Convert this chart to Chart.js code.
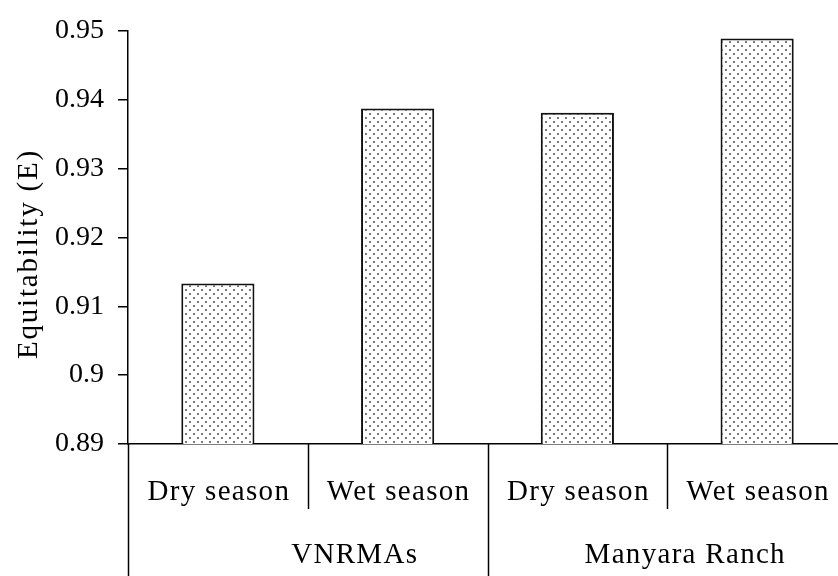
<!DOCTYPE html>
<html>
<head>
<meta charset="utf-8">
<script src="https://cdn.jsdelivr.net/npm/chart.js@4"></script>
<style>
  html,body{margin:0;padding:0;background:#fff;overflow:hidden;}
  #wrap{width:850px;height:576px;}
</style>
</head>
<body>
<div id="wrap"><canvas id="chart"></canvas></div>
<script>
/* Equitability (E) by season and area */
const categories   = ['Dry season', 'Wet season', 'Dry season', 'Wet season'];
const groups       = ['VNRMAs', 'Manyara Ranch'];
const groupSizes   = [2, 2];
const equitability = [0.9133, 0.9387, 0.9381, 0.9489];
const yMin = 0.89, yMax = 0.95, yStep = 0.01;

const FONT = '"Liberation Serif", "Times New Roman", serif';
const INK  = '#000';
const groupLabelNudge = [47, 18];   // the original's group labels sit right of centre

function dotPattern(){
  const c = document.createElement('canvas'); c.width = 8; c.height = 8;
  const p = c.getContext('2d');
  p.fillStyle = '#fff'; p.fillRect(0,0,8,8);
  p.fillStyle = '#7a7a7a';
  p.fillRect(1,1,2,2); p.fillRect(5,5,2,2);
  return p.createPattern(c, 'repeat');
}

const lowerAxis = {
  id: 'lowerAxis',
  afterDraw(chart){
    const ctx = chart.ctx, x = chart.scales.x, a = chart.chartArea;
    const H = chart.height;
    const edge = i => i === 0 ? a.left : i === categories.length ? a.right
      : (x.getPixelForValue(i-1) + x.getPixelForValue(i)) / 2;
    ctx.save();
    ctx.strokeStyle = INK; ctx.lineWidth = 1.5;
    // separators: long at group edges, short inside a group
    const groupEdges = [0]; groupSizes.forEach(n => groupEdges.push(groupEdges[groupEdges.length-1] + n));
    for (let i = 0; i <= categories.length; i++){
      const px = Math.round(edge(i)) + 0.5;
      const long = groupEdges.includes(i);
      ctx.beginPath(); ctx.moveTo(px, a.bottom); ctx.lineTo(px, long ? H : a.bottom + 65); ctx.stroke();
    }
    ctx.fillStyle = INK; ctx.font = '29px ' + FONT;
    ctx.textAlign = 'center'; ctx.textBaseline = 'middle';
    ctx.letterSpacing = '1.3px';
    categories.forEach((c, i) => ctx.fillText(c, x.getPixelForValue(i) + 1, a.bottom + 48));
    groups.forEach((g, k) => {
      const cx = (edge(groupEdges[k]) + edge(groupEdges[k+1])) / 2 + groupLabelNudge[k];
      ctx.fillText(g, cx, a.bottom + 111);
    });
    // y title
    ctx.letterSpacing = '1.8px';
    ctx.translate(29, 254); ctx.rotate(-Math.PI/2);
    ctx.fillText('Equitability (E)', 0, 0);
    ctx.restore();
  }
};

const el = document.getElementById('chart');
new Chart(el, {
  type: 'bar',
  data: {
    labels: categories,
    datasets: [{
      label: 'Equitability (E)',
      data: equitability,
      backgroundColor: dotPattern(),
      borderColor: '#111',
      borderWidth: 2,
      borderSkipped: 'start',
      categoryPercentage: 1,
      barPercentage: 0.407
    }]
  },
  options: {
    responsive: true, maintainAspectRatio: false, animation: false,
    layout: { padding: { top: 22, right: 3, left: 0, bottom: 0 } },
    plugins: { legend: { display: false }, tooltip: { enabled: false } },
    scales: {
      x: {
        grid: { display: false },
        border: { display: true, color: INK, width: 1.5 },
        ticks: { display: false },
        afterFit: s => { s.height = 132; }
      },
      y: {
        min: yMin, max: yMax,
        afterFit: s => { s.width = 128; },
        grid: { drawOnChartArea: false, drawTicks: true, tickLength: 10, color: INK, lineWidth: 1.5 },
        border: { display: true, color: INK, width: 1.5 },
        ticks: {
          stepSize: yStep, padding: 14, color: INK,
          font: { family: FONT, size: 28 },
          callback: v => String(+v.toFixed(2))
        }
      }
    }
  },
  plugins: [lowerAxis]
});
</script>
</body>
</html>
